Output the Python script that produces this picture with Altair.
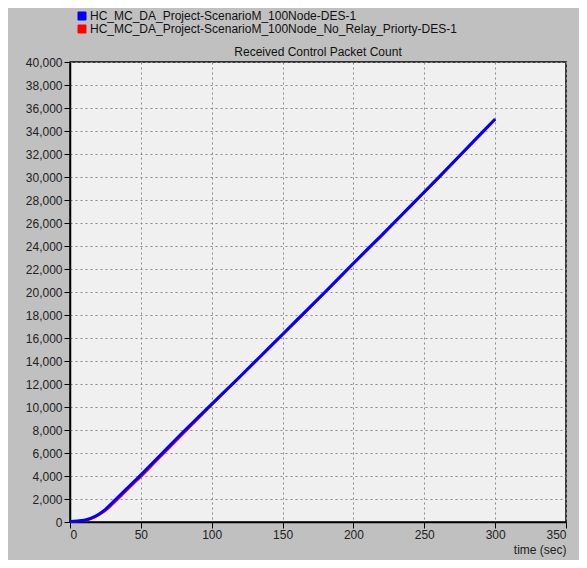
import altair as alt
import pandas as pd

series_names = [
    "HC_MC_DA_Project-ScenarioM_100Node-DES-1",
    "HC_MC_DA_Project-ScenarioM_100Node_No_Relay_Priorty-DES-1",
]
times = [0, 5, 10, 15, 20, 25, 30, 35, 40, 45, 50, 60, 70, 80, 90, 100,
         120, 140, 160, 180, 200, 220, 240, 260, 280, 300]
blue_vals = [50, 80, 150, 330, 650, 1100, 1700, 2300, 2900, 3500, 4100,
             5350, 6600, 7850, 9050, 10250, 12650, 15100, 17550, 20000, 22500,
             24950, 27450, 29950, 32500, 35050]
red_vals = [40, 70, 130, 300, 600, 1000, 1550, 2150, 2750, 3350, 3950,
            5200, 6450, 7700, 8950, 10200, 12620, 15070, 17520, 19970, 22470,
            24920, 27420, 29920, 32470, 35000]
x_ticks = [0, 50, 100, 150, 200, 250, 300, 350]
y_ticks = list(range(0, 40001, 2000))

rows = []
for t, v in zip(times, red_vals):
    rows.append({"t": t, "v": v, "s": series_names[1], "o": 0})
for t, v in zip(times, blue_vals):
    rows.append({"t": t, "v": v, "s": series_names[0], "o": 1})
df = pd.DataFrame(rows)

FONT = "Liberation Sans"

xaxis = alt.Axis(values=x_ticks, title="time (sec)", titleAnchor="end",
                 titleAlign="right", titleFontWeight="normal",
                 titleFontSize=12, titleColor="#222", titlePadding=4,
                 labelPadding=1)
yaxis = alt.Axis(values=y_ticks, format=",d", title=None, labelPadding=2,
                 labelOverlap=False)
xscale = alt.Scale(domain=[0, 350], nice=False)
yscale = alt.Scale(domain=[0, 40000], nice=False)
cscale = alt.Scale(domain=series_names, range=["#0000ff", "#ff0000"])

legend = alt.Legend(title=None, orient="none", legendX=6, legendY=-52,
                    symbolType="square", symbolSize=64,
                    symbolStrokeColor="black", symbolStrokeWidth=1,
                    symbolOpacity=1, labelLimit=600,
                    labelFontSize=12, labelColor="#111", labelFont=FONT,
                    rowPadding=1, padding=0, labelOffset=2)

base = alt.Chart(df)

legend_layer = base.mark_square(opacity=0, size=1, filled=True).encode(
    x=alt.X("t:Q", scale=xscale, axis=xaxis),
    y=alt.Y("v:Q", scale=yscale, axis=yaxis),
    color=alt.Color("s:N", scale=cscale, sort=series_names, legend=legend),
)

lines = base.mark_line(interpolate="monotone").encode(
    x=alt.X("t:Q", scale=xscale, axis=xaxis),
    y=alt.Y("v:Q", scale=yscale, axis=yaxis),
    color=alt.Color("s:N", scale=cscale, sort=series_names, legend=legend),
    strokeWidth=alt.condition(alt.datum.o == 1, alt.value(3), alt.value(2.5)),
    detail="o:N",
    order="o:Q",
)

chart = alt.layer(legend_layer, lines).properties(
    width=496,
    height=460,
    autosize=alt.AutoSizeParams(type="none"),
    padding={"left": 62, "top": 54, "right": 13, "bottom": 38},
    background="#c0c0c0",
    title=alt.TitleParams("Received Control Packet Count", fontSize=12,
                          fontWeight="normal", color="#111", font=FONT,
                          anchor="middle", offset=3, dy=52),
).configure_view(
    fill="#f0f0f0", stroke="black", strokeWidth=1.5
).configure_axis(
    labelFont=FONT, titleFont=FONT, labelFontSize=12, labelColor="#222",
    tickColor="black", tickSize=6, domainColor="black", domainWidth=1.5,
    gridColor="#8a8a8a", gridDash=[2, 3], gridWidth=1, grid=True,
    labelOverlap=False,
)

chart.save("out.html", embed_options={"renderer": "svg", "actions": False})
